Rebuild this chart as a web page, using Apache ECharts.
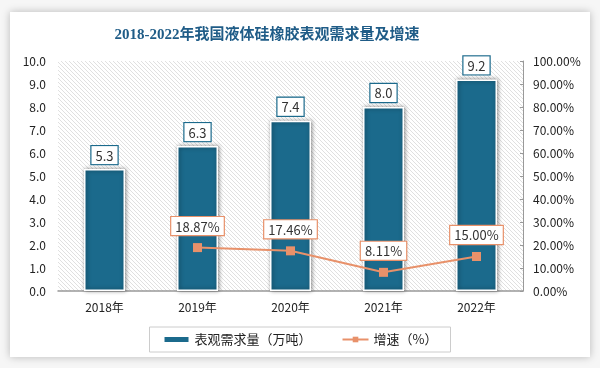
<!DOCTYPE html>
<html><head><meta charset="utf-8">
<script src="https://cdn.jsdelivr.net/npm/echarts@6/dist/echarts.min.js"></script>
<style>html,body{margin:0;padding:0;background:#fff}#c{width:600px;height:368px}</style>
</head><body><div id="c"></div>
<script>
const categories = ['2018年','2019年','2020年','2021年','2022年'];
const demand = [5.3, 6.3, 7.4, 8.0, 9.2];
const growth = [null, 18.87, 17.46, 8.11, 15.00];
const titleText = '2018-2022年我国液体硅橡胶表观需求量及增速';
const seriesNames = ['表观需求量（万吨）', '增速（%）'];

const tile = document.createElement('canvas');
const s = 4;
tile.width = s; tile.height = s;
const ctx = tile.getContext('2d');
ctx.fillStyle = '#ffffff'; ctx.fillRect(0,0,s,s);
ctx.strokeStyle = '#e0e0e0'; ctx.lineWidth = 1;
for (const k of [-s, 0, s]) { ctx.beginPath(); ctx.moveTo(k, 0); ctx.lineTo(k + s, s); ctx.stroke(); }

const BAR = '#1B6A8C', LINE = '#E8916A';
const font = '"Noto Sans CJK SC", "Noto Sans", sans-serif';
const chart = echarts.init(document.getElementById('c'));
chart.setOption({
  backgroundColor: '#f6f6f6',
  animation: false,
  graphic: [{
    type: 'rect', z: -10, shape: {x: 10, y: 12, width: 580, height: 345},
    style: {fill: '#fff', shadowBlur: 8, shadowColor: 'rgba(0,0,0,0.25)'}
  }],
  title: {
    text: titleText, left: 262, textAlign: 'center', top: 23,
    textStyle: {fontSize: 15, fontWeight: 'bold', color: '#1F5C87', fontFamily: '"Liberation Serif", "Noto Sans CJK SC", serif'}
  },
  grid: {left: 58, right: 77, top: 61, bottom: 77, show: true, borderWidth: 0,
    backgroundColor: {image: tile, repeat: 'repeat'}},
  legend: {
    bottom: 16, left: 'center', itemGap: 30, itemWidth: 26, itemHeight: 7,
    padding: [6, 13, 6, 13], borderColor: '#cccccc', borderWidth: 1, borderRadius: 0,
    textStyle: {fontSize: 13, color: '#222', fontFamily: font},
    data: [{name: seriesNames[0], icon: 'rect'}, {name: seriesNames[1]}]
  },
  xAxis: {
    type: 'category', data: categories,
    axisLine: {lineStyle: {color: '#999', width: 1.5}},
    axisTick: {show: false},
    axisLabel: {fontSize: 12, color: '#222', margin: 10, fontFamily: font}
  },
  yAxis: [{
    type: 'value', min: 0, max: 10, interval: 1,
    splitLine: {show: false}, axisLine: {show: false}, axisTick: {show: false},
    axisLabel: {fontSize: 12, color: '#222', margin: 12, fontFamily: font, formatter: v => v.toFixed(1)}
  }, {
    type: 'value', min: 0, max: 100, interval: 10, position: 'right',
    splitLine: {show: false},
    axisLine: {show: true, lineStyle: {color: '#999'}},
    axisTick: {show: true, inside: true, length: 3, lineStyle: {color: '#999'}},
    axisLabel: {fontSize: 12, color: '#222', margin: 10, fontFamily: font, formatter: v => v.toFixed(2) + '%'}
  }],
  series: [{
    name: seriesNames[0], type: 'bar', data: demand, barWidth: 41,
    itemStyle: {color: BAR, borderColor: '#fff', borderWidth: 1.5,
      shadowBlur: 4, shadowColor: 'rgba(0,0,0,0.45)', shadowOffsetX: 1, shadowOffsetY: 0},
    label: {show: true, position: 'top', distance: 5, formatter: p => p.value.toFixed(1),
      fontSize: 13, color: '#333', fontFamily: font, backgroundColor: '#fff',
      borderColor: BAR, borderWidth: 1.2, padding: [3, 4, 2, 4]}
  }, {
    name: seriesNames[1], type: 'line', yAxisIndex: 1, data: growth,
    symbol: 'rect', symbolSize: 9, connectNulls: false,
    lineStyle: {color: LINE, width: 2},
    itemStyle: {color: LINE},
    label: {show: true, position: 'top', distance: 8, formatter: p => p.value.toFixed(2) + '%',
      fontSize: 13, color: '#333', fontFamily: font, backgroundColor: '#fff',
      borderColor: LINE, borderWidth: 1.2, padding: [3, 4, 2, 4]}
  }]
});
</script></body></html>
